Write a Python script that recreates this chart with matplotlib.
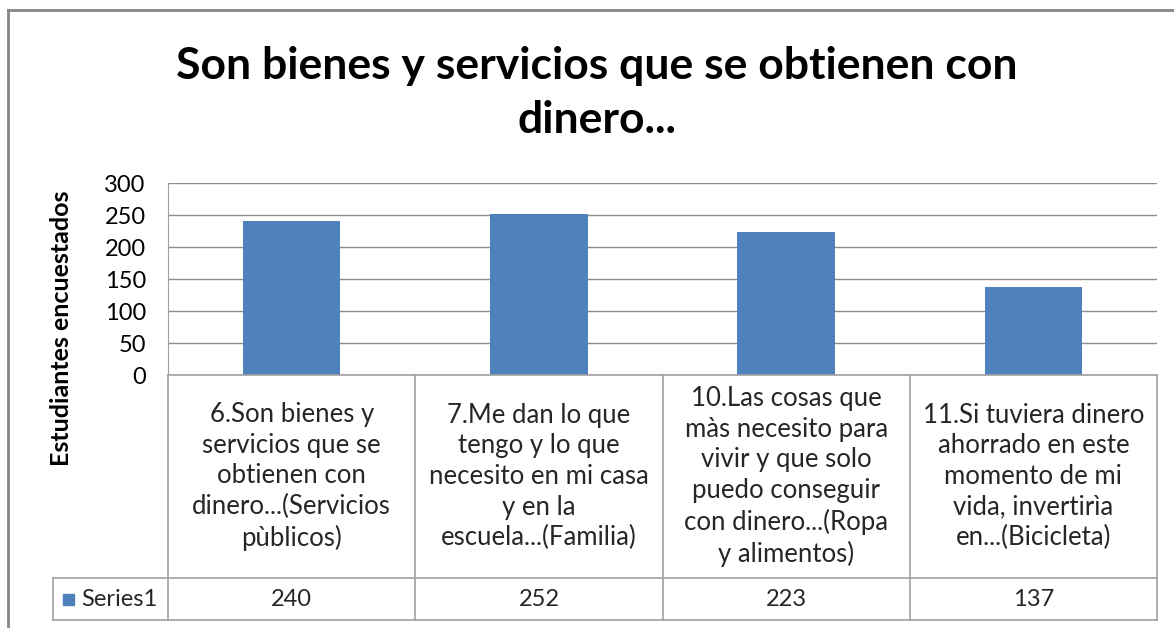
import matplotlib
matplotlib.use('Agg')
import matplotlib.pyplot as plt
from matplotlib.lines import Line2D
from matplotlib.patches import Rectangle
from matplotlib.transforms import blended_transform_factory

# datos del grafico
categorias = [
    "6.Son bienes y\nservicios que se\nobtienen con\ndinero...(Servicios\npùblicos)",
    "7.Me dan lo que\ntengo y lo que\nnecesito en mi casa\ny en la\nescuela...(Familia)",
    "10.Las cosas que\nmàs necesito para\nvivir y que solo\npuedo conseguir\ncon dinero...(Ropa\ny alimentos)",
    "11.Si tuviera dinero\nahorrado en este\nmomento de mi\nvida, invertirìa\nen...(Bicicleta)",
]
valores = [240, 252, 223, 137]
serie = "Series1"
titulo = "Son bienes y servicios que se obtienen con\ndinero..."
eje_y = "Estudiantes encuestados"
ticks_y = [0, 50, 100, 150, 200, 250, 300]

plt.rcParams['font.family'] = ['Lato', 'DejaVu Sans']

W, H = 1174, 628
fig = plt.figure(figsize=(W / 100, H / 100), dpi=100)
fig.patch.set_facecolor('white')

# area del grafico en pixeles
x0, x1 = 168, 1157
y_top, y_bot = 183, 375
ax = fig.add_axes([x0 / W, (H - y_bot) / H, (x1 - x0) / W, (y_bot - y_top) / H])

azul = '#4F81BD'
gris = '#A0A0A0'
texto = '#262626'
xs = range(len(valores))
ax.bar(xs, valores, width=0.395, color=azul, zorder=3)
ax.set_xlim(-0.5, len(valores) - 0.5)
ax.set_ylim(0, 300)
ax.set_yticks(ticks_y)
ax.tick_params(axis='y', length=0, labelsize=17, pad=16, colors='#000000')
ax.set_xticks([])
ax.yaxis.grid(True, color='#8C8C8C', linewidth=1.0, zorder=0)
for s in ['top', 'right', 'bottom']:
    ax.spines[s].set_visible(False)
ax.spines['left'].set_color(gris)

# tabla de datos debajo del grafico
tr = blended_transform_factory(ax.transData, ax.transAxes)
alto = y_bot - y_top
fila1 = -(578 - y_bot) / alto
fila2 = -(620 - y_bot) / alto
x_leyenda = -0.5 - (x0 - 53) / ((x1 - x0) / len(valores))

def linea(xa, xb, ya, yb):
    ax.add_line(Line2D([xa, xb], [ya, yb], transform=tr, color=gris,
                       linewidth=1.2, clip_on=False, zorder=4))

linea(-0.5, len(valores) - 0.5, 0, 0)
linea(x_leyenda, len(valores) - 0.5, fila1, fila1)
linea(x_leyenda, len(valores) - 0.5, fila2, fila2)
linea(x_leyenda, x_leyenda, fila1, fila2)
for i in range(len(valores) + 1):
    linea(i - 0.5, i - 0.5, 0, fila2)

for i, (cat, v) in enumerate(zip(categorias, valores)):
    ax.text(i, fila1 / 2, cat, transform=tr, ha='center', va='center',
            fontsize=18.5, linespacing=1.28, color=texto, clip_on=False)
    ax.text(i, (fila1 + fila2) / 2, str(v), transform=tr, ha='center',
            va='center', fontsize=17, color=texto, clip_on=False)

# leyenda dentro de la tabla
fig.patches.append(Rectangle((63 / W, (H - 605) / H), 11 / W, 11 / H,
                             transform=fig.transFigure, color=azul))
fig.text(81 / W, (H - 600) / H, serie, ha='left', va='center', fontsize=17,
         color=texto)

# titulo y etiqueta del eje
fig.text(597 / W, (H - 93) / H, titulo, ha='center', va='center',
         fontsize=32, fontweight='bold', linespacing=1.45)
fig.text(62 / W, (H - 328) / H, eje_y, ha='center', va='center',
         rotation=90, fontsize=18, fontweight='bold')

# borde exterior
fig.add_artist(Line2D([8 / W, 1], [(H - 10) / H, (H - 10) / H],
                      transform=fig.transFigure, color='#868686', linewidth=2))
fig.add_artist(Line2D([8 / W, 8 / W], [0, (H - 10) / H],
                      transform=fig.transFigure, color='#868686', linewidth=2))

fig.savefig('out.png', dpi=100)
